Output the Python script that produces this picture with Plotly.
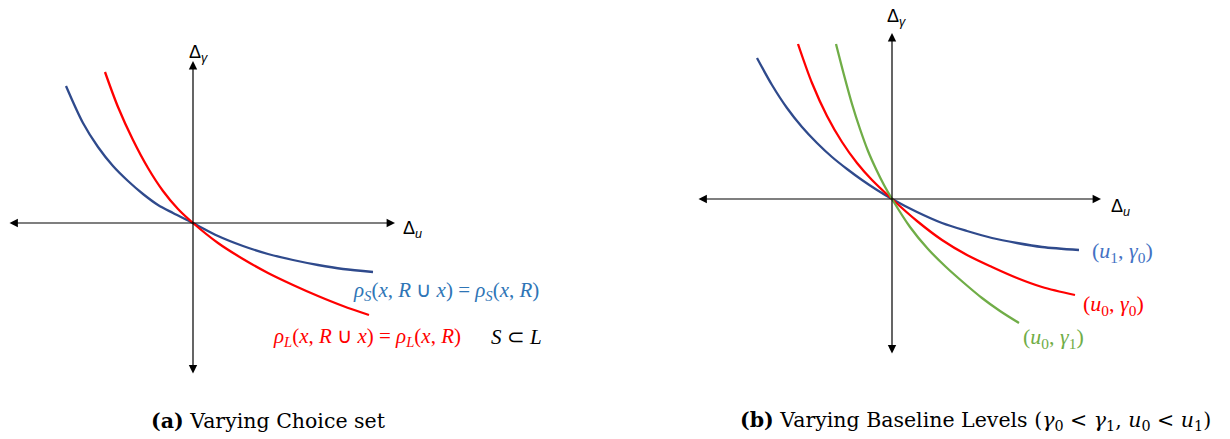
import plotly.graph_objects as go

# ---------------- data (offsets from each origin) ----------------
# Panel (a): Varying choice set
a_blue_x = [-127, -110, -95, -80, -65, -50, -35, -20, 0, 25, 50, 75, 100, 125, 150, 180]
a_blue_y = [137, 100, 76, 57, 42, 29, 18, 10, 0, -13, -23, -31, -37, -42, -46, -49]
a_red_x = [-88, -75, -60, -45, -30, -15, 0, 25, 50, 75, 100, 125, 150, 176]
a_red_y = [151, 116, 83, 55, 32, 14, 0, -20, -36, -50, -62, -73, -83, -92]

# Panel (b): Varying baseline levels
b_blue_x = [-135, -120, -105, -90, -75, -60, -45, -30, -15, 0, 25, 50, 75, 100, 125, 150, 187]
b_blue_y = [141, 114, 91, 72, 56, 42, 30, 19, 9, 0, -13, -24, -32, -39, -44, -48, -51]
b_red_x = [-94, -80, -65, -50, -35, -20, 0, 25, 50, 75, 100, 125, 150, 183]
b_red_y = [155, 116, 83, 57, 36, 19, 0, -22, -41, -56, -68, -79, -88, -96]
b_green_x = [-56, -48, -40, -32, -24, -16, -8, 0, 18, 36, 54, 72, 90, 108, 127]
b_green_y = [155, 124, 95, 70, 48, 30, 14, 0, -28, -50, -68, -84, -99, -112, -124]

# axis extents (arrow tips)
a_axis_x = [-185, 202]
a_axis_y = [-152, 162]
b_axis_x = [-195, 209]
b_axis_y = [-156, 166]

NAVY = "#2F4A8C"
RED = "#FF0000"
GREEN = "#70AD47"
TXT_BLUE_A = "#2E75B6"
TXT_BLUE_B = "#4472C4"

fig = go.Figure()

def curve(x, y, color, xa, ya):
    fig.add_trace(go.Scatter(x=x, y=y, mode="lines", xaxis=xa, yaxis=ya,
                             line=dict(color=color, width=2.3, shape="spline", smoothing=0.9),
                             hoverinfo="skip", showlegend=False))

curve(a_blue_x, a_blue_y, NAVY, "x", "y")
curve(a_red_x, a_red_y, RED, "x", "y")
curve(b_blue_x, b_blue_y, NAVY, "x2", "y2")
curve(b_red_x, b_red_y, RED, "x2", "y2")
curve(b_green_x, b_green_y, GREEN, "x2", "y2")

anns = []
def axis_arrow(x0, y0, x1, y1, xr, yr):
    anns.append(dict(x=x1, y=y1, ax=x0, ay=y0, xref=xr, yref=yr, axref=xr, ayref=yr,
                     text="", showarrow=True, arrowhead=2, arrowside="end+start",
                     arrowsize=1.4, arrowwidth=1.2, arrowcolor="black", standoff=0, startstandoff=0))

axis_arrow(a_axis_x[0], 0, a_axis_x[1], 0, "x", "y")
axis_arrow(0, a_axis_y[0], 0, a_axis_y[1], "x", "y")
axis_arrow(b_axis_x[0], 0, b_axis_x[1], 0, "x2", "y2")
axis_arrow(0, b_axis_y[0], 0, b_axis_y[1], "x2", "y2")

SANS = "Liberation Sans"
SERIF = "Liberation Serif"
CAP = "DejaVu Serif"

def label(text, x, y, xr, yr, color="black", size=21, family=SERIF, xanchor="left"):
    anns.append(dict(text=text, x=x, y=y, xref=xr, yref=yr, showarrow=False,
                     xanchor=xanchor, yanchor="middle", font=dict(family=family, size=size, color=color)))

# axis labels
label("Δ<sub><i>γ</i></sub>", -6, 170, "x", "y", family=SANS, size=18)
label("Δ<sub><i>u</i></sub>", 208, -6, "x", "y", family=SANS, size=18)
label("Δ<sub><i>γ</i></sub>", -7, 182, "x2", "y2", family=SANS, size=18)
label("Δ<sub><i>u</i></sub>", 217, -8, "x2", "y2", family=SANS, size=18)

# panel (a) labels
label("<i>ρ</i><sub><i>S</i></sub>(<i>x</i>, <i>R</i> ∪ <i>x</i>) = <i>ρ</i><sub><i>S</i></sub>(<i>x</i>, <i>R</i>)",
      158, -68, "x", "y", color=TXT_BLUE_A)
label("<i>ρ</i><sub><i>L</i></sub>(<i>x</i>, <i>R</i> ∪ <i>x</i>) = <i>ρ</i><sub><i>L</i></sub>(<i>x</i>, <i>R</i>)",
      78, -114, "x", "y", color=RED)
label("<i>S</i> ⊂ <i>L</i>", 296, -114, "x", "y", color="black")

# panel (b) labels
label("(<i>u</i><sub>1</sub>, <i>γ</i><sub>0</sub>)", 198, -53, "x2", "y2", color=TXT_BLUE_B, size=22)
label("(<i>u</i><sub>0</sub>, <i>γ</i><sub>0</sub>)", 189, -106, "x2", "y2", color=RED, size=22)
label("(<i>u</i><sub>0</sub>, <i>γ</i><sub>1</sub>)", 129, -139, "x2", "y2", color=GREEN, size=22)

# captions
anns.append(dict(text="<b>(a)</b> Varying Choice set", x=268 / 1230, y=1 - 421 / 439,
                 xref="paper", yref="paper", showarrow=False, xanchor="center", yanchor="middle",
                 font=dict(family=CAP, size=20.5, color="black")))
anns.append(dict(text="<b>(b)</b> Varying Baseline Levels (<i>γ</i><sub>0</sub> &lt; <i>γ</i><sub>1</sub>, <i>u</i><sub>0</sub> &lt; <i>u</i><sub>1</sub>)",
                 x=975 / 1230, y=1 - 421 / 439,
                 xref="paper", yref="paper", showarrow=False, xanchor="center", yanchor="middle",
                 font=dict(family=CAP, size=20.5, color="black")))

hidden = dict(visible=False, showgrid=False, zeroline=False, fixedrange=True)
fig.update_layout(
    width=1230, height=439,
    margin=dict(l=0, r=0, t=0, b=0),
    paper_bgcolor="white", plot_bgcolor="white",
    showlegend=False,
    xaxis=dict(domain=[0, 0.5], range=[-193, 422], **hidden),
    yaxis=dict(domain=[0, 1], range=[-216, 223], anchor="x", **hidden),
    xaxis2=dict(domain=[0.5, 1], range=[-277, 338], anchor="y2", **hidden),
    yaxis2=dict(domain=[0, 1], range=[-240, 199], anchor="x2", **hidden),
    annotations=anns,
)

fig.write_html("out.html", config={"displayModeBar": False},
               post_script="document.body.style.margin='0';document.body.style.overflow='hidden';")
